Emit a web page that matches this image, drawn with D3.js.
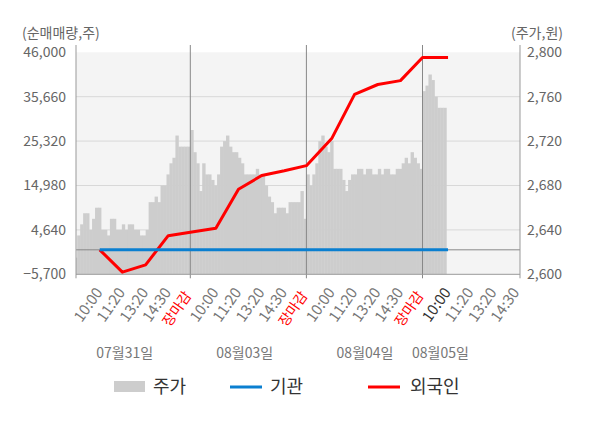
<!DOCTYPE html>
<html>
<head>
<meta charset="utf-8">
<script src="https://cdn.jsdelivr.net/npm/d3@7"></script>
<style>
  body { margin: 0; background: #fff; }
  text { font-family: "Noto Sans CJK KR", "Noto Sans", sans-serif; }
</style>
</head>
<body>
<div id="chart"></div>
<script>
// 날짜, 시간 라벨
var days = ["07월31일", "08월03일", "08월04일", "08월05일"];
var timeLabels = ["10:00", "11:20", "13:20", "14:30", "장마감"];
var leftTicks = [46000, 35660, 25320, 14980, 4640, -5700];
var rightTicks = [2800, 2760, 2720, 2680, 2640, 2600];

// 주가 (원), 하루 39개 구간
var price0731 = [2615, 2635, 2645, 2655, 2655, 2640, 2650, 2660, 2660, 2640,
                 2640, 2635, 2650, 2650, 2640, 2640, 2645, 2640, 2645, 2645,
                 2640, 2640, 2635, 2635, 2640, 2665, 2665, 2670, 2665, 2680,
                 2680, 2690, 2700, 2705, 2725, 2715, 2715, 2715, 2715];
var price0803 = [2730, 2710, 2700, 2675, 2700, 2690, 2690, 2685, 2680, 2690,
                 2715, 2720, 2725, 2715, 2710, 2710, 2705, 2700, 2690, 2690,
                 2690, 2690, 2695, 2690, 2690, 2680, 2670, 2665, 2655, 2660,
                 2660, 2660, 2655, 2665, 2665, 2665, 2665, 2675, 2650];
var price0804 = [2690, 2680, 2690, 2700, 2720, 2725, 2715, 2710, 2720, 2695,
                 2695, 2695, 2685, 2675, 2685, 2690, 2690, 2695, 2695, 2690,
                 2695, 2695, 2690, 2690, 2695, 2690, 2695, 2695, 2690, 2690,
                 2695, 2695, 2700, 2705, 2700, 2710, 2705, 2700, 2695];
var price0805 = [2765, 2770, 2780, 2775, 2760, 2750, 2750, 2750];

// 순매매량 (주), 시간대별
var foreign = [0, -5200, -3500, 3300, 4100,
               5000, 14100, 17300, 18400, 19600,
               26000, 36200, 38500, 39400, 44800,
               44800];
var institution = [0, 0, 0, 0, 0, 0, 0, 0, 0, 0, 0, 0, 0, 0, 0, 0];

var width = 600, height = 428;
var plot = { left: 76, right: 520, top: 52.3, bottom: 274.3 };
var barsPerDay = 39;

var svg = d3.select("#chart").append("svg")
    .attr("width", width)
    .attr("height", height);

var yL = d3.scaleLinear().domain([-5700, 46000]).range([plot.bottom, plot.top]);
var yR = d3.scaleLinear().domain([2600, 2800]).range([plot.bottom, plot.top]);

// 하루 = 1 단위
var dayX = d3.scaleLinear().domain([0, 4]).range([74.2, 74.2 + 4 * 116.1]);
// 하루 안의 시간 라벨 위치 (0..5 -> 0..1)
var slotPos = d3.scaleLinear().domain([0, 1, 2, 3, 4, 5]).range([0, 0.22, 0.415, 0.615, 0.81, 1]);
var barX = d3.scaleLinear().domain([0, 4 * barsPerDay]).range(dayX.range());

function slotX(i) {
    var d = Math.floor(i / 5), s = i % 5 + 1;
    return dayX(d + slotPos(s));
}

// 배경
svg.append("rect")
    .attr("x", plot.left).attr("y", plot.top)
    .attr("width", plot.right - plot.left).attr("height", plot.bottom - plot.top)
    .attr("fill", "#f4f4f4");

// 그리드
svg.selectAll(".grid").data(leftTicks.slice(1, -1)).enter().append("line")
    .attr("x1", plot.left).attr("x2", plot.right)
    .attr("y1", d => yL(d)).attr("y2", d => yL(d))
    .attr("stroke", "#d8d8d8").attr("stroke-width", 1);

svg.append("clipPath").attr("id", "clip").append("rect")
    .attr("x", plot.left).attr("y", plot.top)
    .attr("width", plot.right - plot.left).attr("height", plot.bottom - plot.top);

// 주가 막대
var prices = [price0731, price0803, price0804, price0805];
var bars = [];
prices.forEach((arr, d) => arr.forEach((p, i) => bars.push({ idx: d * barsPerDay + i, p: p })));
var bw = barX(1) - barX(0);

svg.append("g").attr("clip-path", "url(#clip)")
  .selectAll("rect").data(bars).enter().append("rect")
    .attr("x", d => barX(d.idx))
    .attr("width", bw + 0.4)
    .attr("y", d => yR(d.p))
    .attr("height", d => plot.bottom - yR(d.p))
    .attr("fill", "#cdcdcd");

// 0 선
svg.append("line")
    .attr("x1", plot.left).attr("x2", plot.right)
    .attr("y1", yL(0)).attr("y2", yL(0))
    .attr("stroke", "#888").attr("stroke-width", 1);

// 날짜 구분선
svg.selectAll(".dayline").data([1, 2, 3]).enter().append("line")
    .attr("x1", d => dayX(d)).attr("x2", d => dayX(d))
    .attr("y1", 45).attr("y2", plot.bottom + 4)
    .attr("stroke", "#888").attr("stroke-width", 1);

// 축 선
[plot.left, plot.right].forEach(x => {
    svg.append("line")
        .attr("x1", x).attr("x2", x)
        .attr("y1", 45).attr("y2", plot.bottom + 4)
        .attr("stroke", "#999").attr("stroke-width", 1);
});
svg.append("line")
    .attr("x1", plot.left).attr("x2", plot.right)
    .attr("y1", plot.bottom).attr("y2", plot.bottom)
    .attr("stroke", "#999").attr("stroke-width", 1);

// 선
var line = d3.line()
    .x((d, i) => slotX(i))
    .y(d => yL(d));

svg.append("path").datum(foreign)
    .attr("d", line)
    .attr("fill", "none").attr("stroke", "#ff0000").attr("stroke-width", 3)
    .attr("stroke-linejoin", "round");

svg.append("path").datum(institution)
    .attr("d", line)
    .attr("fill", "none").attr("stroke", "#0a7fd0").attr("stroke-width", 3);

// y축 라벨
var fmt = d3.format(",");
svg.selectAll(".ltick").data(leftTicks).enter().append("text")
    .attr("x", 66).attr("y", d => yL(d))
    .attr("dy", "0.35em")
    .attr("text-anchor", "end")
    .attr("font-size", "14px").attr("fill", "#666")
    .text(d => fmt(d));

svg.selectAll(".rtick").data(rightTicks).enter().append("text")
    .attr("x", 527).attr("y", d => yR(d))
    .attr("dy", "0.35em")
    .attr("font-size", "14px").attr("fill", "#666")
    .text(d => fmt(d));

svg.append("text").attr("x", 22).attr("y", 38)
    .attr("font-size", "14px").attr("fill", "#666").text("(순매매량,주)");
svg.append("text").attr("x", 563).attr("y", 38).attr("text-anchor", "end")
    .attr("font-size", "14px").attr("fill", "#666").text("(주가,원)");

// x축 시간 라벨 (장마감은 빨간색)
var xLabels = [];
for (var d = 0; d < 4; d++) {
    for (var s = 0; s < 5; s++) {
        if (d === 3 && s === 4) continue;
        xLabels.push({ i: d * 5 + s, t: timeLabels[s], last: d === 3 && s === 0 });
    }
}
svg.selectAll(".xl").data(xLabels).enter().append("text")
    .attr("transform", d => {
        var close = d.t === "장마감";
        return "translate(" + (slotX(d.i) + (close ? 1.7 : 3.5)) + "," + (plot.bottom + (close ? 21.5 : 18)) + ") rotate(-55)";
    })
    .attr("text-anchor", "end")
    .attr("font-size", d => d.t === "장마감" ? "14px" : "15px")
    .attr("fill", d => d.t === "장마감" ? "#ff0000" : (d.last ? "#333" : "#777"))
    .text(d => d.t);

// 날짜 라벨
var dateAt = [0.435, 1.469, 2.505, 3.155];
svg.selectAll(".dl").data(days).enter().append("text")
    .attr("x", (d, i) => dayX(dateAt[i]))
    .attr("y", 358)
    .attr("text-anchor", "middle")
    .attr("font-size", "14px").attr("fill", "#777")
    .text(d => d);

// 범례
var lg = svg.append("g").attr("font-size", "18px").attr("fill", "#333");
lg.append("rect").attr("x", 114).attr("y", 381).attr("width", 31).attr("height", 11).attr("fill", "#cdcdcd");
lg.append("text").attr("x", 153).attr("y", 393).text("주가");
lg.append("line").attr("x1", 230).attr("x2", 262).attr("y1", 387).attr("y2", 387)
    .attr("stroke", "#0a7fd0").attr("stroke-width", 3);
lg.append("text").attr("x", 270).attr("y", 393).text("기관");
lg.append("line").attr("x1", 368).attr("x2", 400).attr("y1", 387).attr("y2", 387)
    .attr("stroke", "#ff0000").attr("stroke-width", 3);
lg.append("text").attr("x", 410).attr("y", 393).text("외국인");
</script>
</body>
</html>
